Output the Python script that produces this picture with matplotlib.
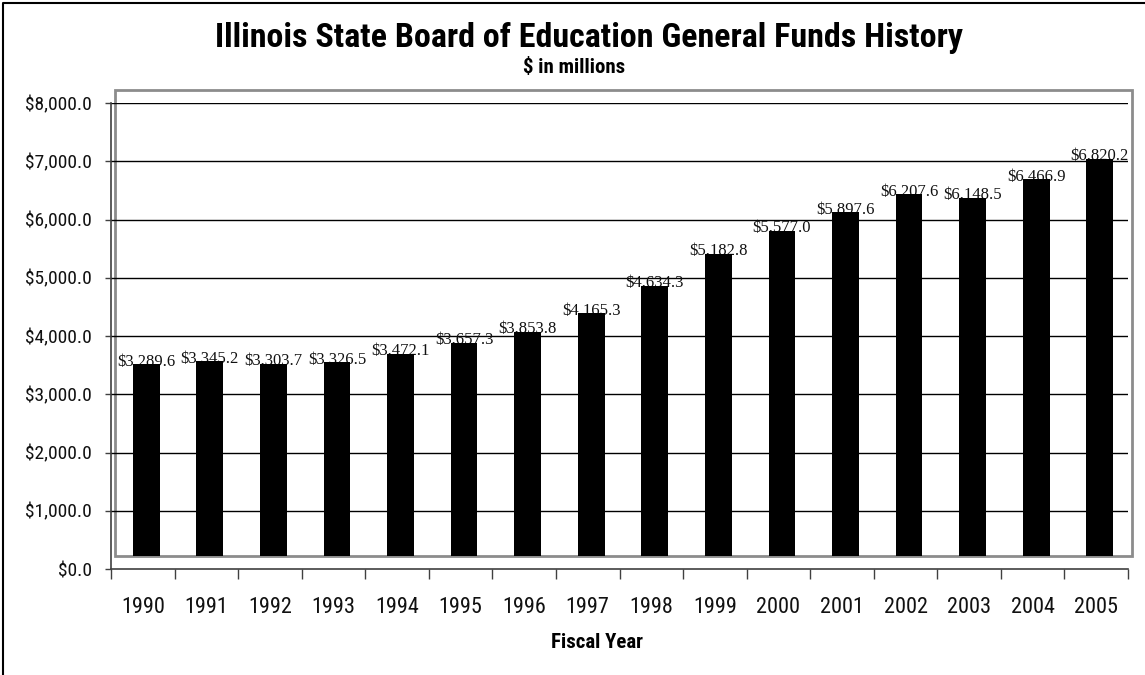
import numpy as np
import matplotlib
matplotlib.use('Agg')
from matplotlib import pyplot as plt
from matplotlib import transforms
from matplotlib.patches import Rectangle
from matplotlib.lines import Line2D

years = ['1990', '1991', '1992', '1993', '1994', '1995', '1996', '1997',
         '1998', '1999', '2000', '2001', '2002', '2003', '2004', '2005']
funds = [3289.6, 3345.2, 3303.7, 3326.5, 3472.1, 3657.3, 3853.8, 4165.3,
         4634.3, 5182.8, 5577.0, 5897.6, 6207.6, 6148.5, 6466.9, 6820.2]
y_ticks = [0, 1000, 2000, 3000, 4000, 5000, 6000, 7000, 8000]

narrow = ['Roboto Condensed', 'PT Sans Narrow', 'DejaVu Sans']
serif = ['Liberation Serif', 'DejaVu Serif']

W, H = 1145, 675
fig = plt.figure(figsize=(W / 100, H / 100), dpi=100)

# axes placed in pixels: x 111..1128, y 103..569
ax = fig.add_axes([111 / W, (H - 569) / H, (1128 - 111) / W, (569 - 103) / H])
ax.set_xlim(-0.5, len(years) - 0.5)
ax.set_ylim(0, 8000)

# depth offset of the back wall (excel 3d look)
depth = transforms.ScaledTranslation(3.5 / 100, 13 / 100, fig.dpi_scale_trans)
shifted = ax.transData + depth

# back wall
wall = Rectangle((-0.5, 0), len(years), 8000, transform=shifted, fill=False,
                 edgecolor='#8c8c8c', linewidth=2, clip_on=False, zorder=1)
ax.add_patch(wall)

for v in y_ticks[1:]:
    ax.axhline(v, color='black', linewidth=1, zorder=2)

x = np.arange(len(years))
ax.bar(x, funds, width=0.42, color='black', transform=shifted, clip_on=False,
       zorder=4)
lab_off = transforms.ScaledTranslation(0, -1 / 100, fig.dpi_scale_trans)
for xi, v in zip(x, funds):
    ax.text(xi, v, '${:,.1f}'.format(v), transform=shifted + lab_off, ha='center',
            va='baseline', fontsize=12, family=serif, color='#111111',
            zorder=3, clip_on=False)

for s in ['top', 'right']:
    ax.spines[s].set_visible(False)
for s in ['left', 'bottom']:
    ax.spines[s].set_color('#404040')
    ax.spines[s].set_linewidth(1.2)

ax.set_yticks(y_ticks)
ax.set_yticklabels(['${:,.1f}'.format(v) for v in y_ticks], family=narrow,
                   fontsize=14, color='#111111')
ax.tick_params(axis='y', length=4, width=1, color='#404040', pad=10)

ax.set_xticks(np.arange(-0.5, len(years), 1.0))
ax.set_xticklabels([])
ax.tick_params(axis='x', which='major', length=7, width=1, color='#404040')
ax.set_xticks(x, minor=True)
ax.set_xticklabels(years, minor=True, family=narrow, fontsize=16, color='#111111')
ax.tick_params(axis='x', which='minor', length=0, pad=20)

fig.text(589 / W, 1 - 46.7 / H, 'Illinois State Board of Education General Funds History',
         ha='center', va='baseline', fontsize=24.5, fontweight='bold', family=narrow)
fig.text(574 / W, 1 - 73.3 / H, '$ in millions', ha='center', va='baseline',
         fontsize=15, fontweight='bold', family=narrow)
fig.text(597 / W, 1 - 648.3 / H, 'Fiscal Year', ha='center', va='baseline',
         fontsize=15, fontweight='bold', family=narrow)

# chart area border (only top and left visible in the crop)
fig.add_artist(Line2D([2.5 / W, 2.5 / W, 1], [0, 1 - 3 / H, 1 - 3 / H],
                      transform=fig.transFigure, color='black', linewidth=1.5))

fig.savefig('out.png', dpi=100)
